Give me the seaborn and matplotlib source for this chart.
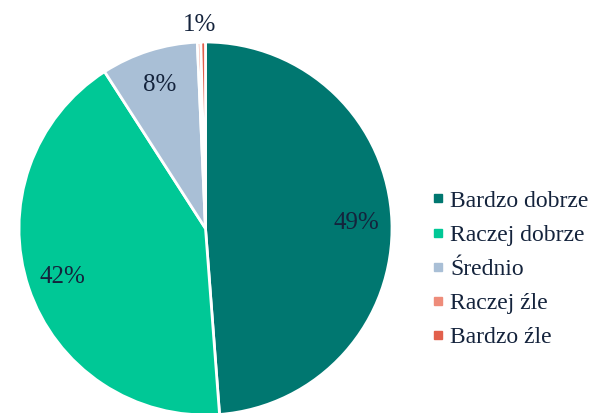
import matplotlib
matplotlib.use("Agg")
import matplotlib.pyplot as plt
from matplotlib.lines import Line2D
import seaborn as sns
import numpy as np

categories = ["Bardzo dobrze", "Raczej dobrze", "Średnio", "Raczej źle", "Bardzo źle"]
shares = [48.8, 42.1, 8.4, 0.3, 0.4]
pct_labels = ["49%", "42%", "8%", "", "1%"]
colors = ["#007770", "#00C896", "#A9BFD6", "#EE8C7A", "#E2604C"]

sns.set_theme(style="white")
plt.rcParams["font.family"] = ["Liberation Serif", "DejaVu Serif"]
text_color = "#14233C"

fig = plt.figure(figsize=(5.92, 4.13), dpi=100)
ax = fig.add_axes([19 / 592, -2 / 413, 373 / 592, 373 / 413])

pal = sns.color_palette(colors)
wedges, texts = ax.pie(shares, colors=pal, startangle=90, counterclock=False,
                       wedgeprops=dict(edgecolor="white", linewidth=2))
ax.set_xlim(-1, 1)
ax.set_ylim(-1, 1)
ax.set_aspect("equal")

# percentage labels
for w, lab in zip(wedges, pct_labels):
    if not lab:
        continue
    ang = np.deg2rad((w.theta1 + w.theta2) / 2)
    if w.theta2 - w.theta1 < 5:
        # tiny slice: label sits just outside the rim
        x, y = -0.03, 1.09
    else:
        x, y = 0.81 * np.cos(ang), 0.81 * np.sin(ang)
    ax.text(x, y, lab, ha="center", va="center", fontsize=18,
            color=text_color, clip_on=False)

handles = [Line2D([0], [0], marker="s", linestyle="", markersize=5.5,
                  markerfacecolor=c, markeredgecolor=c) for c in colors]
fig.legend(handles, categories, loc="center left", bbox_to_anchor=(0.71, 0.348),
           frameon=False, fontsize=17, labelspacing=0.535, handletextpad=0.16,
           handlelength=0.7, borderaxespad=0, labelcolor=text_color)

fig.savefig("out.png", dpi=100)
